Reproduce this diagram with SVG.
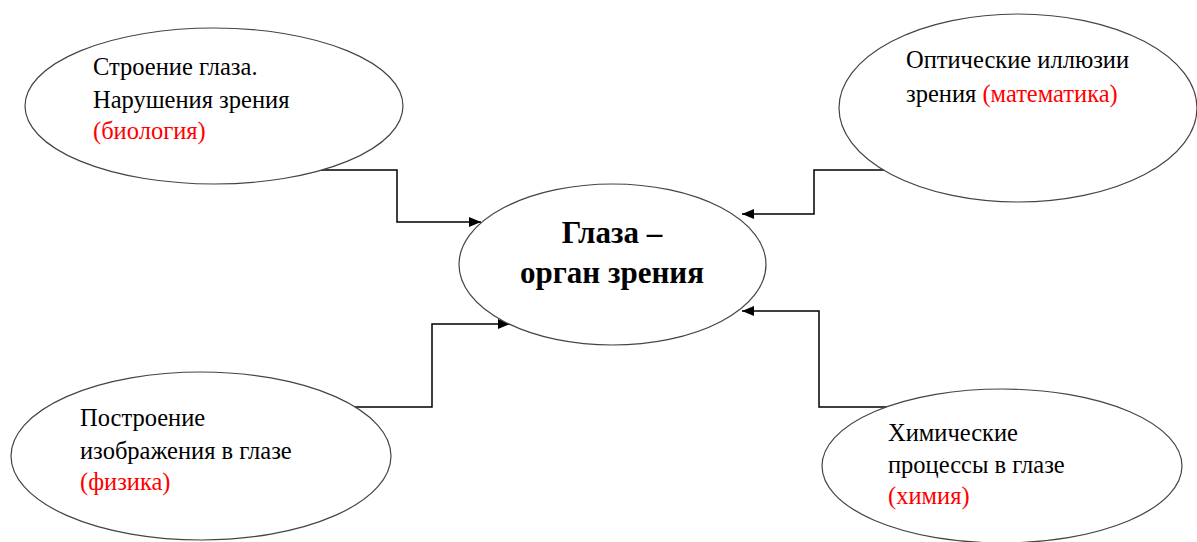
<svg xmlns="http://www.w3.org/2000/svg" width="1197" height="542" viewBox="0 0 1197 542">
<style>
.node ellipse{fill:#fff;stroke:#444;stroke-width:1.2}
.t{font-family:'Liberation Serif','Times New Roman','DejaVu Serif',serif;font-size:24.5px;fill:#000}
.r{fill:#f00}
.c{font-family:'Liberation Serif','Times New Roman','DejaVu Serif',serif;font-size:31px;font-weight:bold;fill:#000;text-anchor:middle}
.conn{fill:none;stroke:#000;stroke-width:1.5}
</style>
<defs>
<marker id="ah" markerWidth="12" markerHeight="10" refX="12" refY="5" orient="auto" markerUnits="userSpaceOnUse">
<path d="M0,0 L12,5 L0,10 Z" fill="#000"/>
</marker>
</defs>
<rect width="1197" height="542" fill="#fff"/>
<g id="connectors">
<path class="conn" d="M312,170 H397 V222 H481" marker-end="url(#ah)"/>
<path class="conn" d="M887,170 H814 V214 H742" marker-end="url(#ah)"/>
<path class="conn" d="M353,407 H432 V324 H510" marker-end="url(#ah)"/>
<path class="conn" d="M898,407 H819 V311 H742" marker-end="url(#ah)"/>
</g>
<g id="center" class="node">
<ellipse cx="612.5" cy="264.5" rx="153.5" ry="80.5"/>
<text class="c" x="612" y="243">Глаза –</text>
<text class="c" x="612" y="283">орган зрения</text>
</g>
<g id="biology" class="node">
<ellipse cx="214" cy="106" rx="189" ry="78"/>
<text class="t" x="93" y="75">Строение глаза.</text>
<text class="t" x="93" y="108">Нарушения зрения</text>
<text class="t r" x="93" y="139">(биология)</text>
</g>
<g id="math" class="node">
<ellipse cx="1018" cy="108" rx="179" ry="94"/>
<text class="t" x="906" y="68">Оптические иллюзии</text>
<text class="t" x="906" y="102">зрения <tspan class="r">(математика)</tspan></text>
</g>
<g id="physics" class="node">
<ellipse cx="201" cy="456" rx="190" ry="84"/>
<text class="t" x="80" y="426">Построение</text>
<text class="t" x="80" y="459">изображения в глазе</text>
<text class="t r" x="80" y="490">(физика)</text>
</g>
<g id="chemistry" class="node">
<ellipse cx="1002" cy="466" rx="180" ry="77"/>
<text class="t" x="888" y="441">Химические</text>
<text class="t" x="888" y="473">процессы в глазе</text>
<text class="t r" x="888" y="504">(химия)</text>
</g>
</svg>
